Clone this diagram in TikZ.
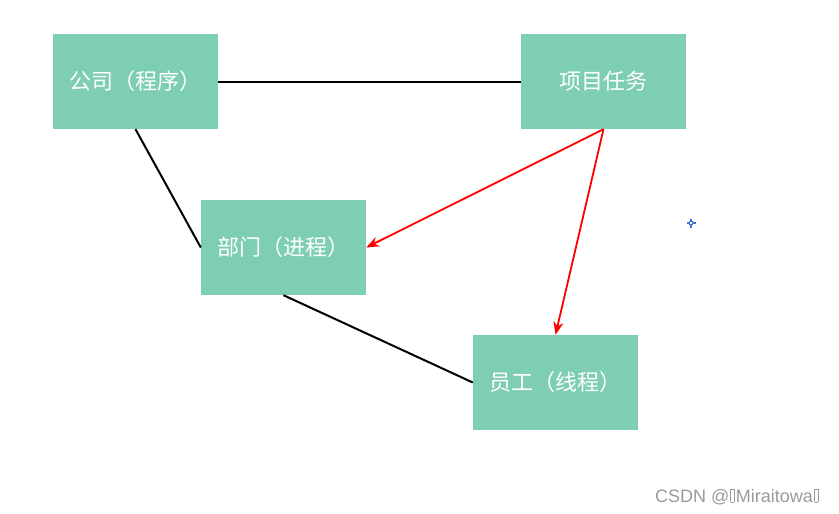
\documentclass[tikz,border=0pt]{standalone}
\usepackage{fontspec}
\newfontfamily\cjk{Noto Sans CJK SC}
\newfontfamily\wm{Liberation Sans}
\usetikzlibrary{arrows.meta}
\definecolor{boxgreen}{HTML}{7ECDB5}
\definecolor{wmgray}{HTML}{9A9A9A}
\definecolor{crossblue}{HTML}{3C78D8}
\newcommand\tofuglyph{\kern1pt\hbox{\vrule width0.7pt\vbox to 13pt{\hrule width3pt\vfil\hrule width3pt}\vrule width0.7pt}\kern1pt}
\tikzset{
  box/.style={fill=boxgreen, draw=none, minimum width=165pt, minimum height=95pt, inner sep=0pt,
    text=white, font=\cjk\fontsize{22}{25}\selectfont},
  link/.style={black, line width=2pt},
  redarrow/.style={red, line width=1.8pt, -{Stealth[length=13pt,width=10pt]}},
}
\begin{document}
\begin{tikzpicture}[x=1pt,y=-1pt]
\useasboundingbox (0,0) rectangle (839,514);
\node[box] (gs) at (135.5,81.5) {公司（程序）};
\node[box] (xm) at (603.5,81.5) {项目任务};
\node[box] (bm) at (283.5,247.5) {部门（进程）};
\node[box] (yg) at (555.5,382.5) {员工（线程）};
\draw[link] (gs.east) -- (xm.west);
\draw[link] (gs.south) -- (bm.west);
\draw[link] (bm.south) -- (yg.west);
\draw[redarrow] (xm.south) -- (bm.east);
\draw[redarrow] (xm.south) -- (yg.north);
\coordinate (cr) at (691,223);
\draw[crossblue, line width=1.3pt] ([xshift=-4.5pt]cr) -- ([xshift=4.5pt]cr) ([yshift=-4.5pt]cr) -- ([yshift=4.5pt]cr);
\draw[crossblue, fill=white, line width=0.8pt] ([xshift=-1.6pt,yshift=-1.6pt]cr) rectangle ([xshift=1.6pt,yshift=1.6pt]cr);
\node[anchor=west, text=wmgray, font=\wm\fontsize{18}{20}\selectfont, inner sep=0pt] (wmk) at (655,497) {CSDN @\tofuglyph Miraitowa\tofuglyph};
\end{tikzpicture}
\end{document}
